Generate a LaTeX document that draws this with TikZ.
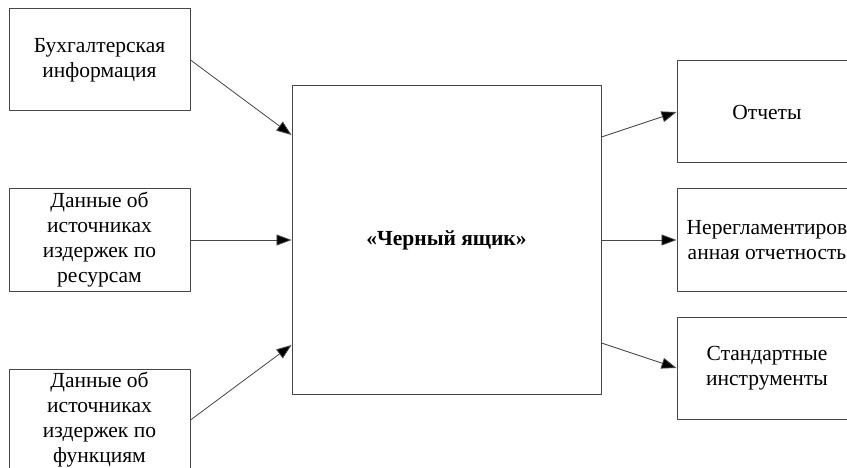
\documentclass[tikz,border=0pt]{standalone}
\usepackage{fontspec}
\setmainfont{Liberation Serif}
\usetikzlibrary{arrows.meta}
\definecolor{linegray}{RGB}{70,70,70}
\begin{document}
\begin{tikzpicture}[x=1pt,y=-1pt,
  box/.style={draw=linegray,line width=1pt,fill=white,minimum width=181pt,minimum height=102pt,inner sep=0pt,align=center,font=\fontsize{21.5}{25}\selectfont},
  big/.style={draw=linegray,line width=1pt,fill=white,minimum width=309pt,minimum height=308pt,inner sep=0pt,align=center,font=\fontsize{21.5}{25}\selectfont\bfseries},
  conn/.style={draw=linegray,line width=0.8pt,-{Triangle[length=15pt,width=11pt,fill=black]}}]
\useasboundingbox (0,0) rectangle (847,468);
\clip (0,0) rectangle (847,468);
\fill[white] (0,0) rectangle (847,468);
\node[box] (a) at (99.5,60) {Бухгалтерская\\информация};
\node[box] (b) at (99.5,240) {Данные об\\источниках\\издержек по\\ресурсам};
\node[box] (d) at (99.5,420) {Данные об\\источниках\\издержек по\\функциям};
\node[big] (c) at (446.5,240) {«Черный ящик»};
\node[box,minimum width=180pt] (r1) at (767,112) {Отчеты};
\node[box,minimum width=180pt] (r2) at (767,240) {Нерегламентиров\\анная отчетность};
\node[box,minimum width=180pt] (r3) at (767,368) {Стандартные\\инструменты};
\draw[conn] (a.east) -- ([yshift=105pt]c.west);
\draw[conn] (b.east) -- (c.west);
\draw[conn] (d.east) -- ([yshift=-105pt]c.west);
\draw[conn] ([yshift=103pt]c.east) -- (r1.west);
\draw[conn] (c.east) -- (r2.west);
\draw[conn] ([yshift=-103pt]c.east) -- (r3.west);
\end{tikzpicture}
\end{document}
